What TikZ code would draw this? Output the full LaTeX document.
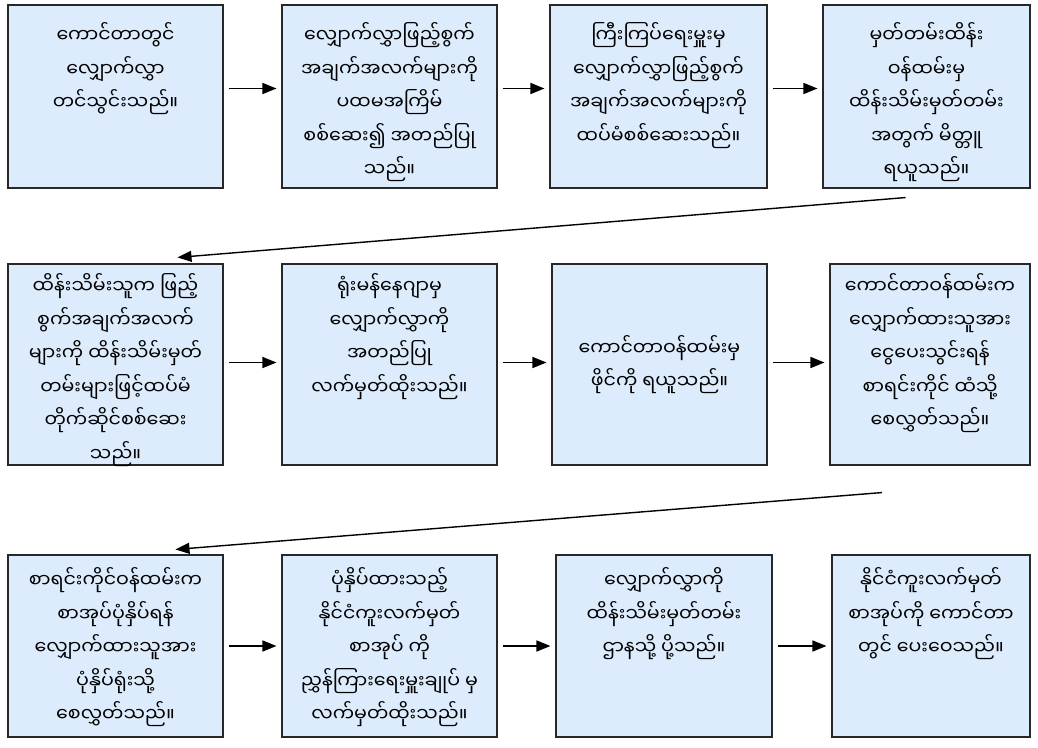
\documentclass[tikz,border=0pt]{standalone}
\usepackage{fontspec}
\newfontfamily\my[Script=Myanmar]{Noto Sans Myanmar UI}
\usetikzlibrary{arrows.meta}
\definecolor{boxfill}{RGB}{221,236,252}
\definecolor{boxline}{RGB}{40,40,40}
\tikzset{
  box/.style={draw=boxline, line width=1.1pt, fill=boxfill, inner sep=0pt},
  txt/.style={align=center, inner sep=0pt, font=\my\fontsize{19}{33.5}\selectfont},
  arr/.style={line width=1.5pt, -{Triangle[length=14pt,width=11pt]}, shorten <=5pt, shorten >=5pt},
  darr/.style={line width=1.4pt, -{Triangle[length=14pt,width=11pt]}}
}
\begin{document}
\begin{tikzpicture}[x=1pt,y=-1pt]
\useasboundingbox (0,0) rectangle (1038,747);
\fill[white] (0,0) rectangle (1038,747);
% row 1
\node[box, minimum width=215pt, minimum height=183pt] (b1) at (115.5,96.5) {};
\node[box, minimum width=215pt, minimum height=183pt] (b2) at (389.5,96.5) {};
\node[box, minimum width=217pt, minimum height=183pt] (b3) at (658.5,96.5) {};
\node[box, minimum width=207pt, minimum height=183pt] (b4) at (926.5,96.5) {};
% row 2
\node[box, minimum width=215pt, minimum height=201pt] (b5) at (115.5,364.5) {};
\node[box, minimum width=215pt, minimum height=201pt] (b6) at (389.5,364.5) {};
\node[box, minimum width=215pt, minimum height=201pt] (b7) at (659.5,364.5) {};
\node[box, minimum width=200pt, minimum height=201pt] (b8) at (930,364.5) {};
% row 3
\node[box, minimum width=215pt, minimum height=182pt] (b9) at (115.5,646) {};
\node[box, minimum width=215pt, minimum height=182pt] (b10) at (389.5,646) {};
\node[box, minimum width=216pt, minimum height=182pt] (b11) at (664,646) {};
\node[box, minimum width=198pt, minimum height=182pt] (b12) at (931,646) {};
% texts
\node[txt, anchor=north] (t1) at ([yshift=-18pt]b1.north) {ကောင်တာတွင်\\လျှောက်လွှာ\\တင်သွင်းသည်။};
\node[txt, anchor=north] (t2) at ([yshift=-18pt]b2.north) {လျှောက်လွှာဖြည့်စွက်\\အချက်အလက်များကို\\ပထမအကြိမ်\\စစ်ဆေး၍ အတည်ပြု\\သည်။};
\node[txt, anchor=north] (t3) at ([yshift=-18pt]b3.north) {ကြီးကြပ်ရေးမှူးမှ\\လျှောက်လွှာဖြည့်စွက်\\အချက်အလက်များကို\\ထပ်မံစစ်ဆေးသည်။};
\node[txt, anchor=north] (t4) at ([yshift=-18pt]b4.north) {မှတ်တမ်းထိန်း\\ဝန်ထမ်းမှ\\ထိန်းသိမ်းမှတ်တမ်း\\အတွက် မိတ္တူ\\ရယူသည်။};
\node[txt, anchor=north] (t5) at ([yshift=-10pt]b5.north) {ထိန်းသိမ်းသူက ဖြည့်\\စွက်အချက်အလက်\\များကို ထိန်းသိမ်းမှတ်\\တမ်းများဖြင့်ထပ်မံ\\တိုက်ဆိုင်စစ်ဆေး\\သည်။};
\node[txt, anchor=north] (t6) at ([yshift=-10pt]b6.north) {ရုံးမန်နေဂျာမှ\\လျှောက်လွှာကို\\အတည်ပြု\\လက်မှတ်ထိုးသည်။};
\node[txt] (t7) at (b7.center) {ကောင်တာဝန်ထမ်းမှ\\ဖိုင်ကို ရယူသည်။};
\node[txt, anchor=north] (t8) at ([yshift=-10pt]b8.north) {ကောင်တာဝန်ထမ်းက\\လျှောက်ထားသူအား\\ငွေပေးသွင်းရန်\\စာရင်းကိုင် ထံသို့\\စေလွှတ်သည်။};
\node[txt, anchor=north] (t9) at ([yshift=-13pt]b9.north) {စာရင်းကိုင်ဝန်ထမ်းက\\စာအုပ်ပုံနှိပ်ရန်\\လျှောက်ထားသူအား\\ပုံနှိပ်ရုံးသို့\\စေလွှတ်သည်။};
\node[txt, anchor=north] (t10) at ([yshift=-13pt]b10.north) {ပုံနှိပ်ထားသည့်\\နိုင်ငံကူးလက်မှတ်\\စာအုပ် ကို\\ညွှန်ကြားရေးမှူးချုပ် မှ\\လက်မှတ်ထိုးသည်။};
\node[txt, anchor=north] (t11) at ([yshift=-13pt]b11.north) {လျှောက်လွှာကို\\ထိန်းသိမ်းမှတ်တမ်း\\ဌာနသို့ ပို့သည်။};
\node[txt, anchor=north] (t12) at ([yshift=-13pt]b12.north) {နိုင်ငံကူးလက်မှတ်\\စာအုပ်ကို ကောင်တာ\\တွင် ပေးဝေသည်။};
% arrows row 1
\draw[arr] ([yshift=8pt]b1.east) -- ([yshift=8pt]b2.west);
\draw[arr] ([yshift=8pt]b2.east) -- ([yshift=8pt]b3.west);
\draw[arr] ([yshift=8pt]b3.east) -- ([yshift=8pt]b4.west);
% row 2
\draw[arr] ([yshift=2pt]b5.east) -- ([yshift=2pt]b6.west);
\draw[arr] ([yshift=2pt]b6.east) -- ([yshift=2pt]b7.west);
\draw[arr] ([yshift=2pt]b7.east) -- ([yshift=2pt]b8.west);
% row 3
\draw[arr] (b9.east) -- (b10.west);
\draw[arr] (b10.east) -- (b11.west);
\draw[arr] (b11.east) -- (b12.west);
% diagonals
\draw[darr] ([xshift=-21pt,yshift=-9pt]b4.south) -- ([xshift=62pt,yshift=6pt]b5.north);
\draw[darr] ([xshift=-48pt,yshift=-27pt]b8.south) -- ([xshift=60pt,yshift=5pt]b9.north);
\end{tikzpicture}
\end{document}
